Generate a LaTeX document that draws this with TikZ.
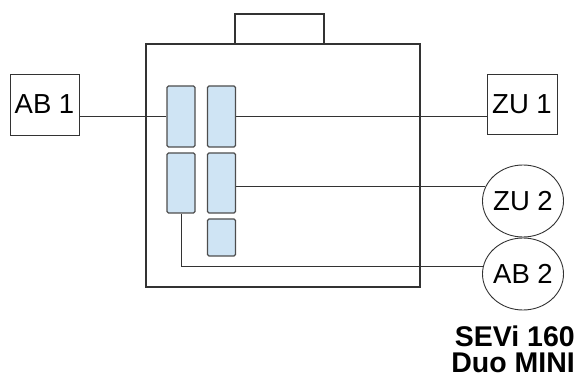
\documentclass[tikz,border=0pt]{standalone}
\usepackage{fontspec}
\setmainfont{Liberation Sans}
\usetikzlibrary{shapes.geometric,calc}
\definecolor{edge}{HTML}{333333}
\definecolor{slotfill}{HTML}{CFE4F4}
\definecolor{slotedge}{HTML}{4D4D4D}
\begin{document}
\begin{tikzpicture}[x=1pt,y=-1pt,
  wire/.style={draw=edge,line width=0.9pt},
  frame/.style={draw=edge,line width=1.2pt,rectangle,inner sep=0pt},
  slot/.style={draw=slotedge,fill=slotfill,line width=1.4pt,rounded corners=1.5pt,rectangle,inner sep=0pt,minimum width=28pt},
  term/.style={draw=edge,line width=0.9pt,rectangle,inner sep=0pt,font=\fontsize{27.5}{29}\selectfont},
  oval/.style={draw=edge,line width=0.9pt,ellipse,inner sep=0pt,minimum width=81pt,minimum height=72pt},
  olabel/.style={font=\fontsize{27.5}{29}\selectfont},
  title/.style={font=\bfseries\fontsize{28.5}{28}\selectfont,inner sep=0pt,anchor=base east}]
\useasboundingbox (0,0) rectangle (579,379);
% housing
\node[frame,minimum width=89pt,minimum height=30pt] (tab) at (279.5,29) {};
\node[frame,minimum width=274pt,minimum height=243pt] (main) at (283,165.5) {};
% slots
\node[slot,minimum height=61pt] (b11) at (181,116.5) {};
\node[slot,minimum height=61pt] (b21) at (221.5,116.5) {};
\node[slot,minimum height=60pt] (b12) at (181,183) {};
\node[slot,minimum height=60pt] (b22) at (221.5,183) {};
\node[slot,minimum height=37pt] (b23) at (221.5,237.5) {};
% terminals
\node[term,minimum width=69pt,minimum height=61pt] (ab1) at (44.5,104.5) {AB 1};
\node[term,minimum width=70pt,minimum height=60pt] (zu1) at (522,104) {ZU 1};
\node[oval,label={[olabel]center:ZU 2}] (zu2) at (523,201) {};
\node[oval,label={[olabel]center:AB 2}] (ab2) at (523,274) {};
% title
\node[title] (t1) at (575,347) {SEVi 160};
\node[title] (t2) at (575,373) {Duo MINI};
% connectors
\draw[wire] (b11.west) -- (b11.west -| ab1.east);
\draw[wire] (b21.east) -- (b21.east -| zu1.west);
\draw[wire] (b22.east |- zu2.159) -- (zu2.159);
\draw[wire] (b12.south) |- (ab2.170);
\end{tikzpicture}
\end{document}
